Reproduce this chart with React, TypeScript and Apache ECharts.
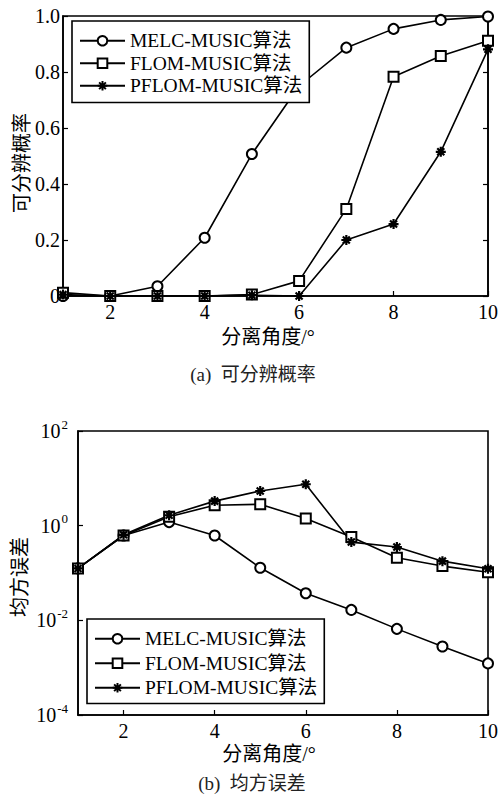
import React, { useEffect, useRef } from "react";
import * as echarts from "echarts";

// Separation angle (degrees)
const ANGLES = [1, 2, 3, 4, 5, 6, 7, 8, 9, 10];
const X_TICKS = [2, 4, 6, 8, 10];

// (a) resolution probability
const MELC_PROB = [0, 0, 0.035, 0.208, 0.507, 0.75, 0.887, 0.954, 0.986, 0.998];
const FLOM_PROB = [0.012, 0, 0, 0, 0.005, 0.054, 0.311, 0.783, 0.857, 0.912];
const PFLOM_PROB = [0.005, 0, 0, 0, 0.003, 0, 0.2, 0.257, 0.515, 0.881];

// (b) mean square error
const MELC_MSE = [0.125, 0.62, 1.19, 0.62, 0.129, 0.0373, 0.0166, 0.0066, 0.0028, 0.00123];
const FLOM_MSE = [0.125, 0.62, 1.55, 2.7, 2.83, 1.41, 0.575, 0.21, 0.14, 0.104];
const PFLOM_MSE = [0.125, 0.64, 1.66, 3.3, 5.4, 7.5, 0.45, 0.353, 0.178, 0.123];

const SERIES_NAMES = ["MELC-MUSIC算法", "FLOM-MUSIC算法", "PFLOM-MUSIC算法"];

const FONT = '"Liberation Serif", "Times New Roman", "Noto Sans CJK SC", serif';
const STAR = "path://M5 0 L5 10 M0 5 L10 5 M1.5 1.5 L8.5 8.5 M1.5 8.5 L8.5 1.5";

const pairs = (ys: number[]) => ANGLES.map((x, i) => [x, ys[i]]);

function makeSeries(
  name: string,
  ys: number[],
  symbol: string,
  xAxisIndex: number,
  yAxisIndex: number
) {
  const isStar = symbol === STAR;
  return {
    name,
    type: "line",
    xAxisIndex,
    yAxisIndex,
    data: pairs(ys),
    symbol,
    symbolSize: 10,
    showAllSymbol: true,
    lineStyle: { color: "#000", width: 1.6 },
    itemStyle: isStar
      ? { color: "#000", borderColor: "#000", borderWidth: 2.2 }
      : { color: "#000", borderColor: "#000", borderWidth: 1.6 },
    emphasis: { disabled: true },
  };
}

export default function App() {
  const ref = useRef<HTMLDivElement>(null);

  useEffect(() => {
    if (!ref.current) return;
    const chart = echarts.init(ref.current, undefined, { renderer: "svg" });

    const xAxisBase = {
      type: "value",
      min: 1,
      max: 10,
      axisLine: { show: true, lineStyle: { color: "#000", width: 1.6 } },
      axisTick: {
        show: true,
        inside: true,
        length: 5,
        customValues: X_TICKS,
        lineStyle: { color: "#000", width: 1.2 },
      },
      axisLabel: {
        customValues: X_TICKS,
        color: "#000",
        fontFamily: FONT,
        fontSize: 20,
        margin: 6,
        showMaxLabel: true,
      },
      splitLine: { show: false },
    };

    const legendBase = {
      orient: "vertical",
      data: SERIES_NAMES,
      itemWidth: 45,
      itemHeight: 12,
      itemGap: 3,
      selectedMode: false,
      backgroundColor: "#fff",
      borderColor: "#000",
      borderWidth: 1.6,
      borderRadius: 0,
      textStyle: { color: "#000", fontFamily: FONT, fontSize: 19.5 },
    };

    const textEl = (x: number, y: number, text: string, size: number, rotate = 0, color = "#000") => ({
      type: "text",
      x,
      y,
      rotation: rotate,
      style: {
        text,
        fill: color,
        font: `${size}px ${FONT}`,
        align: "center",
        verticalAlign: "middle",
      },
    });

    chart.setOption({
      animation: false,
      backgroundColor: "#fff",
      grid: [
        { left: 63, top: 16, width: 429, height: 280, show: true, borderColor: "#000", borderWidth: 1.6 },
        { left: 78, top: 431, width: 419, height: 284, show: true, borderColor: "#000", borderWidth: 1.6 },
      ],
      xAxis: [
        { ...xAxisBase, gridIndex: 0 },
        { ...xAxisBase, gridIndex: 1 },
      ],
      yAxis: [
        {
          gridIndex: 0,
          type: "value",
          min: 0,
          max: 1,
          interval: 0.2,
          axisLine: { show: true, lineStyle: { color: "#000", width: 1.6 } },
          axisTick: { show: true, inside: true, length: 5, lineStyle: { color: "#000", width: 1.2 } },
          axisLabel: {
            color: "#000",
            fontFamily: FONT,
            fontSize: 20,
            margin: 3,
            formatter: (v: number) => (v === 0 ? "0" : v.toFixed(1)),
          },
          splitLine: { show: false },
        },
        {
          gridIndex: 0,
          type: "value",
          position: "right",
          min: 0,
          max: 1,
          interval: 0.2,
          axisLine: { show: true, lineStyle: { color: "#000", width: 1.6 } },
          axisTick: { show: true, inside: true, length: 5, lineStyle: { color: "#000", width: 1.2 } },
          axisLabel: { show: false },
          splitLine: { show: false },
        },
        {
          gridIndex: 1,
          type: "log",
          logBase: 10,
          min: 1e-4,
          max: 1e2,
          interval: 2,
          axisLine: { show: true, lineStyle: { color: "#000", width: 1.6 } },
          axisTick: { show: true, inside: true, length: 5, lineStyle: { color: "#000", width: 1.2 } },
          minorTick: { show: false },
          axisLabel: {
            color: "#000",
            fontFamily: FONT,
            fontSize: 20,
            margin: 10,
            formatter: (v: number) => {
              const e = Math.round(Math.log10(v));
              return "10{sup|" + e + "}";
            },
            rich: {
              sup: {
                fontFamily: FONT,
                fontSize: 13,
                color: "#000",
                verticalAlign: "top",
                padding: [0, 0, 14, 1],
              },
            },
          },
          splitLine: { show: false },
        },
      ],
      legend: [
        { ...legendBase, left: 72, top: 21, padding: [10, 7, 7, 7] },
        { ...legendBase, left: 87, top: 619, itemGap: 5, padding: [10, 7, 6, 7] },
      ],
      series: [
        makeSeries(SERIES_NAMES[0], MELC_PROB, "emptyCircle", 0, 0),
        makeSeries(SERIES_NAMES[1], FLOM_PROB, "emptyRect", 0, 0),
        makeSeries(SERIES_NAMES[2], PFLOM_PROB, STAR, 0, 0),
        makeSeries(SERIES_NAMES[0], MELC_MSE, "emptyCircle", 1, 2),
        makeSeries(SERIES_NAMES[1], FLOM_MSE, "emptyRect", 1, 2),
        makeSeries(SERIES_NAMES[2], PFLOM_MSE, STAR, 1, 2),
      ],
      graphic: [
        textEl(22, 163, "可分辨概率", 20, Math.PI / 2),
        textEl(268, 337, "分离角度/°", 20),
        textEl(253, 374, "(a)  可分辨概率", 19, 0, "#222"),
        textEl(20, 577, "均方误差", 20, Math.PI / 2),
        textEl(269, 754, "分离角度/°", 20),
        textEl(252, 783, "(b)  均方误差", 19, 0, "#222"),
      ],
    });

    return () => chart.dispose();
  }, []);

  return (
    <div
      ref={ref}
      style={{ position: "fixed", left: 0, top: 0, width: 501, height: 794, background: "#fff" }}
    />
  );
}
